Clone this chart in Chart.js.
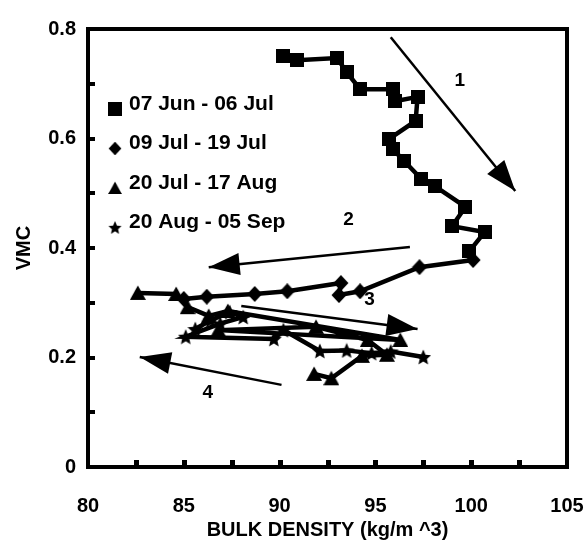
<!DOCTYPE html>
<html>
<head>
<meta charset="utf-8">
<script src="https://cdn.jsdelivr.net/npm/chart.js@4"></script>
<style>
  html, body { margin: 0; background: #fff; }
</style>
</head>
<body>
<canvas id="chart" width="584" height="542"></canvas>
<script>
// series data: bulk density (x) and VMC (y)
const seriesLabels = ['07 Jun - 06 Jul', '09 Jul - 19 Jul', '20 Jul - 17 Aug', '20 Aug - 05 Sep'];

const junDensity = [90.2, 90.9, 93.0, 93.5, 94.2, 95.9, 96.0, 97.2, 97.1, 95.7, 95.9, 96.5, 97.4, 98.1, 99.7, 99.0, 100.7, 99.9];
const junVmc     = [0.751, 0.743, 0.747, 0.721, 0.690, 0.690, 0.668, 0.676, 0.632, 0.599, 0.581, 0.559, 0.526, 0.513, 0.475, 0.440, 0.429, 0.394];

const julDensity = [100.1, 97.3, 94.2, 93.1, 93.2, 90.4, 88.7, 86.2, 85.0];
const julVmc     = [0.378, 0.365, 0.321, 0.314, 0.336, 0.321, 0.316, 0.311, 0.307];

const augDensity = [82.6, 84.6, 85.2, 86.3, 87.3, 96.3, 86.8, 91.9, 94.6, 95.6, 94.3, 92.7, 91.8];
const augVmc     = [0.318, 0.316, 0.292, 0.276, 0.285, 0.232, 0.250, 0.256, 0.232, 0.205, 0.203, 0.162, 0.170];

const sepDensity = [85.6, 86.4, 87.4, 88.1, 86.9, 85.1, 89.7, 90.2, 92.1, 93.5, 94.8, 95.8, 97.5];
const sepVmc     = [0.252, 0.268, 0.283, 0.274, 0.262, 0.238, 0.234, 0.250, 0.212, 0.213, 0.208, 0.211, 0.201];

// trend arrows: start and tip in data units, with their numbers
const arrowStarts = [[95.8, 0.785], [96.8, 0.402], [88.0, 0.294], [90.1, 0.150]];
const arrowTips   = [[102.3, 0.504], [86.3, 0.365], [97.2, 0.252], [82.7, 0.201]];
const arrowNames  = ['1', '2', '3', '4'];
const arrowNamePos = [[99.4, 0.705], [93.6, 0.451], [94.7, 0.305], [86.25, 0.135]];

const xTicks = [80, 85, 90, 95, 100, 105];
const yTicks = [0, 0.2, 0.4, 0.6, 0.8];

function marker(kind) {
  const c = document.createElement('canvas');
  const s = kind === 'square' ? 14 : 16;
  c.width = s; c.height = s;
  const g = c.getContext('2d');
  g.fillStyle = '#000';
  g.beginPath();
  if (kind === 'square') {
    g.rect(0, 0, s, s);
  } else if (kind === 'diamond') {
    g.moveTo(8, 0); g.lineTo(15.5, 8); g.lineTo(8, 16); g.lineTo(0.5, 8);
  } else if (kind === 'triangle') {
    g.moveTo(8, 0.5); g.lineTo(16, 15); g.lineTo(0, 15);
  } else {
    for (let i = 0; i < 10; i++) {
      const r = i % 2 ? 3.8 : 8.2;
      const a = -Math.PI / 2 + i * Math.PI / 5;
      g.lineTo(8 + r * Math.cos(a), 8.8 + r * Math.sin(a));
    }
  }
  g.closePath();
  g.fill();
  return c;
}

const markers = [marker('square'), marker('diamond'), marker('triangle'), marker('star')];

const toPoints = (xs, ys) => xs.map((x, i) => ({ x: x, y: ys[i] }));

const series = [
  toPoints(junDensity, junVmc),
  toPoints(julDensity, julVmc),
  toPoints(augDensity, augVmc),
  toPoints(sepDensity, sepVmc)
];

const datasets = series.map((pts, i) => ({
  label: seriesLabels[i],
  data: pts,
  showLine: true,
  borderColor: '#000',
  backgroundColor: '#000',
  borderWidth: 4.5,
  pointStyle: markers[i],
  pointRadius: 6,
  tension: 0
}));

arrowStarts.forEach((s, i) => {
  datasets.push({
    label: 'arrow' + arrowNames[i],
    data: [{ x: s[0], y: s[1] }, { x: arrowTips[i][0], y: arrowTips[i][1] }],
    showLine: true,
    borderColor: '#000',
    borderWidth: 2.5,
    pointRadius: 0
  });
});

const decorations = {
  id: 'decorations',
  beforeDatasetsDraw(chart) {
    const { ctx, chartArea: a, scales: { x, y } } = chart;
    ctx.save();
    ctx.fillStyle = '#000';
    // inward tick marks
    for (let v = 0.1; v < 0.8; v += 0.1) {
      ctx.fillRect(a.left, Math.round(y.getPixelForValue(v)) - 2, 7, 4);
    }
    for (let v = 82.5; v < 105; v += 2.5) {
      ctx.fillRect(Math.round(x.getPixelForValue(v)) - 2, a.bottom - 7, 5, 7);
    }
    ctx.restore();
  },
  afterDatasetsDraw(chart) {
    const { ctx, chartArea: a, scales: { x, y } } = chart;
    ctx.save();
    ctx.fillStyle = '#000';
    // arrow heads
    arrowStarts.forEach((s, i) => {
      const x0 = x.getPixelForValue(s[0]), y0 = y.getPixelForValue(s[1]);
      const x1 = x.getPixelForValue(arrowTips[i][0]), y1 = y.getPixelForValue(arrowTips[i][1]);
      const ang = Math.atan2(y1 - y0, x1 - x0);
      ctx.save();
      ctx.translate(x1, y1);
      ctx.rotate(ang);
      ctx.beginPath();
      ctx.moveTo(0, 0);
      ctx.lineTo(-31, -11);
      ctx.lineTo(-31, 11);
      ctx.closePath();
      ctx.fill();
      ctx.restore();
    });
    // arrow numbers
    ctx.font = 'bold 19px "Liberation Sans", Arial, sans-serif';
    ctx.textAlign = 'center';
    ctx.textBaseline = 'middle';
    arrowNamePos.forEach((p, i) => {
      ctx.fillText(arrowNames[i], x.getPixelForValue(p[0]), y.getPixelForValue(p[1]));
    });
    // frame
    ctx.lineWidth = 4;
    ctx.strokeStyle = '#000';
    ctx.strokeRect(a.left, a.top, a.right - a.left, a.bottom - a.top);
    // legend
    ctx.font = 'bold 21px "Liberation Sans", Arial, sans-serif';
    ctx.textAlign = 'left';
    seriesLabels.forEach((lab, i) => {
      const ty = 104 + i * 39.5;
      const m = markers[i];
      const ms = i === 0 ? 1 : 0.85;
      ctx.drawImage(m, 115 - m.width * ms / 2, ty + 5 - m.height * ms / 2, m.width * ms, m.height * ms);
      ctx.fillText(lab, 129, ty);
    });
    ctx.restore();
  }
};

const axisFont = { family: '"Liberation Sans", Arial, sans-serif', size: 20, weight: 'bold' };

new Chart(document.getElementById('chart'), {
  type: 'scatter',
  data: { datasets: datasets },
  options: {
    responsive: false,
    animation: false,
    layout: { padding: { top: 29, right: 17, left: 0, bottom: 0 } },
    plugins: {
      legend: { display: false },
      tooltip: { enabled: false }
    },
    scales: {
      x: {
        type: 'linear',
        min: 80,
        max: 105,
        afterBuildTicks: s => { s.ticks = xTicks.map(v => ({ value: v })); },
        afterFit: s => { s.height = 75; s.paddingLeft = 0; s.paddingRight = 0; },
        grid: { display: false, drawTicks: false },
        border: { display: false },
        ticks: { color: '#000', font: axisFont, padding: 27, maxRotation: 0, callback: v => String(v) },
        title: { display: true, text: 'BULK DENSITY (kg/m ^3)', color: '#000', font: axisFont, padding: { top: 0, bottom: 0 } }
      },
      y: {
        type: 'linear',
        min: 0,
        max: 0.8,
        afterBuildTicks: s => { s.ticks = yTicks.map(v => ({ value: v })); },
        afterFit: s => { s.width = 88; s.paddingTop = 0; s.paddingBottom = 0; },
        grid: { display: false, drawTicks: false },
        border: { display: false },
        ticks: { color: '#000', font: axisFont, padding: 12, callback: v => String(v) },
        title: { display: true, text: 'VMC', color: '#000', font: axisFont, padding: { top: 12, bottom: 0 } }
      }
    }
  },
  plugins: [decorations]
});
</script>
</body>
</html>
